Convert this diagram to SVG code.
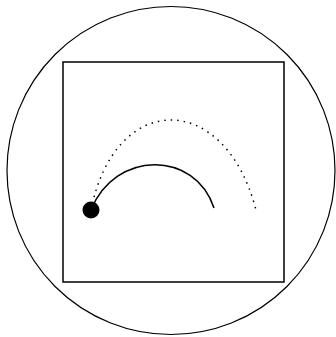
<svg xmlns="http://www.w3.org/2000/svg" width="336" height="337" viewBox="0 0 336 337">
<style>
.ln{fill:none;stroke:#000;}
</style>
<rect width="336" height="337" fill="#fff"/>
<g id="outer"><circle class="ln" cx="171" cy="170.5" r="164" stroke-width="1.2"/></g>
<g id="frame"><rect class="ln" x="63" y="62" width="221" height="220" stroke-width="1.5"/></g>
<g id="connectors">
<path id="dotted" class="ln" d="M91,210 C115,90 225,90 256,210" stroke-width="1.5" stroke-dasharray="1.5 5"/>
<path id="solid" class="ln" d="M91,210 C115,150 195,150 214,208" stroke-width="1.5"/>
</g>
<g id="ball"><circle cx="91" cy="210" r="8.5" fill="#000"/></g>
</svg>
